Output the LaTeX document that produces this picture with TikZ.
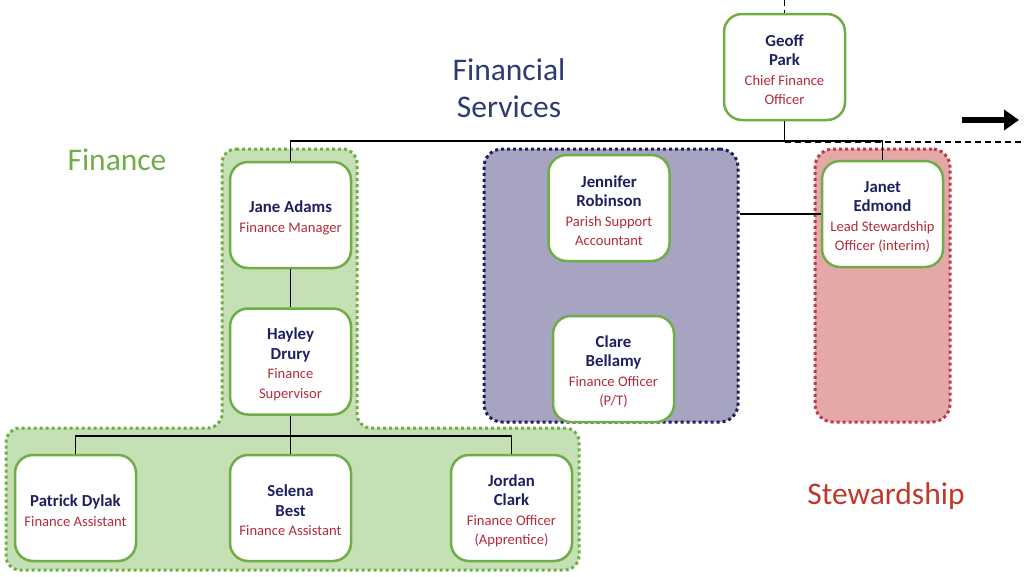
\documentclass[tikz,border=0pt]{standalone}
\usepackage{fontspec}
\setmainfont{Carlito}
\usetikzlibrary{arrows.meta}
\definecolor{pgreen}{HTML}{70AD47}
\definecolor{pname}{HTML}{1F2060}
\definecolor{prole}{HTML}{B22D3A}
\definecolor{gfill}{HTML}{C5E0B4}
\definecolor{pfill}{HTML}{A6A4C0}
\definecolor{pborder}{HTML}{1F1F5C}
\definecolor{rfill}{HTML}{E4A8A9}
\definecolor{rborder}{HTML}{C0394B}
\definecolor{titlec}{HTML}{2E3B6E}
\definecolor{stewc}{HTML}{C0392B}
\newcommand\nm[1]{{\color{pname}\bfseries\fontsize{16.8}{20}\selectfont #1}}
\newcommand\nmtop[1]{{\color{pname}\bfseries\fontsize{16.8}{20}\selectfont\rule{0pt}{17pt}#1}}
\newcommand\rl[1]{{\color{prole}\fontsize{14.6}{18}\selectfont #1}}
\begin{document}
\begin{tikzpicture}[x=1pt,y=-1pt,
  person/.style={draw=pgreen, line width=2.5pt, fill=white, rounded corners=18pt,
    minimum width=121pt, minimum height=106pt, align=center, inner sep=2pt,
    font=\fontsize{15}{19.5}\selectfont},
  grpdots/.style={line width=3pt, dash pattern=on 3pt off 3pt},
  grpbox/.style={grpdots, rounded corners=18pt, minimum height=273pt, inner sep=0pt},
  conn/.style={draw=black, line width=1.5pt},
  biglabel/.style={font=\fontsize{31.5}{37}\selectfont, align=center}
]
\useasboundingbox (0,0) rectangle (1024,576);
% groups
\path[fill=gfill, draw=pgreen, grpdots, rounded corners=14pt]
  (222,149) -- (357,149) -- (357,428) -- (579,428) -- (579,570) -- (6,570) -- (6,428) -- (222,428) -- cycle;
\node[grpbox, fill=pfill, draw=pborder, minimum width=254pt] (purplegrp) at (611,285.5) {};
\node[grpbox, fill=rfill, draw=rborder, minimum width=135pt] (redgrp) at (882.5,285.5) {};
% labels
\node[biglabel, text=titlec] (title) at (509,88) {Financial\\Services};
\node[biglabel, text=pgreen] (finlabel) at (117,160) {Finance};
\node[biglabel, text=stewc] (stewlabel) at (886,496) {Stewardship};
% people
\node[person] (geoff) at (784.5,67) {\nmtop{Geoff}\\\nm{Park}\\\rl{Chief Finance}\\\rl{Officer}};
\node[person] (jane) at (290.5,215) {\nmtop{Jane Adams}\\\rl{Finance Manager}};
\node[person] (hayley) at (290.5,361.5) {\nmtop{Hayley}\\\nm{Drury}\\\rl{Finance}\\\rl{Supervisor}};
\node[person] (patrick) at (75.5,508) {\nmtop{Patrick Dylak}\\\rl{Finance Assistant}};
\node[person] (selena) at (290.5,508) {\nmtop{Selena}\\\nm{Best}\\\rl{Finance Assistant}};
\node[person] (jordan) at (511.5,508) {\nmtop{Jordan}\\\nm{Clark}\\\rl{Finance Officer}\\\rl{(Apprentice)}};
\node[person] (jennifer) at (609,208) {\nmtop{Jennifer}\\\nm{Robinson}\\\rl{Parish Support}\\\rl{Accountant}};
\node[person] (clare) at (613.5,369) {\nmtop{Clare}\\\nm{Bellamy}\\\rl{Finance Officer}\\\rl{(P/T)}};
\node[person] (janet) at (882.5,214) {\nmtop{Janet}\\\nm{Edmond}\\\rl{Lead Stewardship}\\\rl{Officer (interim)}};
% connectors
\coordinate (bus) at (784.5,141);
\coordinate (hbus) at (290.5,436);
\coordinate (topend) at (784.5,0);
\coordinate (dashend) at (1024,142);
\coordinate (arrowstart) at (962,120);
\coordinate (arrowend) at (1019,120);
\draw[conn] (geoff.south) -- (bus);
\draw[conn] (jane.north) |- (bus) -| (janet.north);
\draw[conn] (jane.south) -- (hayley.north);
\draw[conn] (hayley.south) -- (hbus);
\draw[conn] (patrick.north) |- (hbus) -| (jordan.north);
\draw[conn] (hbus) -- (selena.north);
\draw[conn] (purplegrp.east |- janet.west) -- (janet.west);
\draw[line width=1.2pt, dash pattern=on 6pt off 4pt] (bus |- dashend) -- (dashend);
\draw[line width=1.2pt, dash pattern=on 6pt off 4pt] (topend) -- (geoff.north);
\draw[line width=6pt, -{Triangle[length=15pt,width=20pt]}] (arrowstart) -- (arrowend);
\end{tikzpicture}
\end{document}
